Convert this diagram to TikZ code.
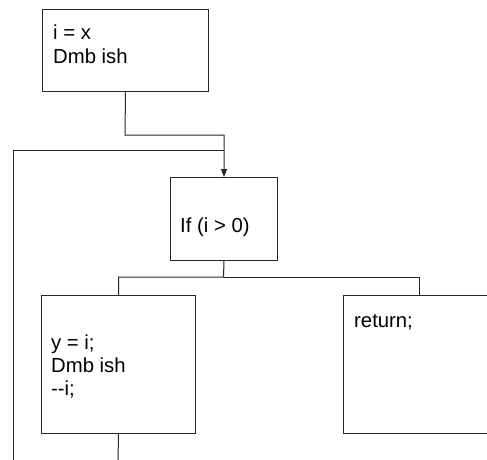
\documentclass[tikz,border=0pt]{standalone}
\usepackage{fontspec}
\setmainfont{Liberation Sans}
\usetikzlibrary{arrows.meta}
\begin{document}
\begin{tikzpicture}[x=1pt,y=-1pt,
  box/.style={draw=black!85,line width=1pt,rectangle,inner sep=0pt,anchor=north west},
  txt/.style={anchor=base west,inner sep=0pt,font=\fontsize{20.3pt}{23pt}\selectfont,text=black},
  conn/.style={draw=black!85,line width=1pt}]
\fill[white] (0,0) rectangle (487,459);
\useasboundingbox (0,0) rectangle (487,459);
\begin{scope}
\clip (0,0) rectangle (487,459);
\node[box,minimum width=166pt,minimum height=82pt] (b1) at (42,9) {};
\node[txt] (t1a) at (53,39) {i = x};
\node[txt] (t1b) at (53,63) {Dmb ish};
\node[box,minimum width=107pt,minimum height=83pt] (cond) at (170,177) {};
\node[txt] (tc) at (180,232) {If (i > 0)};
\node[box,minimum width=154pt,minimum height=138pt] (lb) at (41,295) {};
\node[txt] (l1) at (51,349) {y = i;};
\node[txt] (l2) at (51,372) {Dmb ish};
\node[txt] (l3) at (51,395) {-{}-i;};
\node[box,minimum width=220pt,minimum height=138pt] (rb) at (343,295) {};
\node[txt] (r1) at (354,327) {return;};
\coordinate (rtop) at (419,295);
\coordinate (bend1) at (125,135);
\coordinate (join) at (223.5,150);
\coordinate (loopbot) at (13,462);
\coordinate (split) at (223.5,277);
\coordinate (lbot) at (118,462);
\draw[conn,-{Triangle[length=8pt,width=6pt]}] (b1.south) -- (bend1) -| (cond.north);
\draw[conn] (loopbot) |- (join);
\draw[conn] (cond.south) -- (split) -| (lb.north);
\draw[conn] (split) -| (rtop);
\draw[conn] (lb.south) -- (lbot);
\end{scope}
\end{tikzpicture}
\end{document}
